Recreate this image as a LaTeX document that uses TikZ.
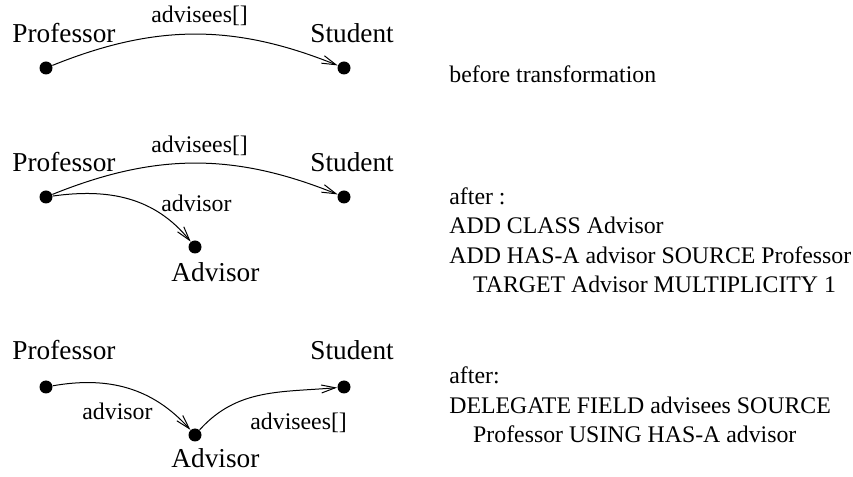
\documentclass[tikz,border=0pt]{standalone}
\usepackage{fontspec}
\setmainfont{Liberation Serif}
\usetikzlibrary{arrows.meta}

\begin{document}
\begin{tikzpicture}[x=0.5pt,y=0.5pt,
  dot/.style={circle,fill=black,inner sep=0pt,minimum size=6.5pt},
  cls/.style={anchor=base west,inner sep=0pt,font=\fontsize{13.65}{16}\selectfont},
  role/.style={anchor=base west,inner sep=0pt,font=\fontsize{11.9}{14.65}\selectfont},
  note/.style={anchor=base west,inner sep=0pt,align=left,font=\fontsize{11.9}{14.8}\selectfont},
  link/.style={-{Straight Barb[length=7pt,width=4pt]},line width=0.5pt}]
  \useasboundingbox (0,0) rectangle (853,477);

  % before transformation
  \node[dot] (prof1) at (46,409) {};
  \node[dot] (stud1) at (344,409) {};
  \node[cls] (lprof1) at (12,434) {Professor};
  \node[cls] (lstud1) at (310,434) {Student};
  \draw[link] (prof1) to[out=22,in=158] (stud1);
  \node[role] (ladv1) at (151,454) {advisees[]};
  \node[role] (note1) at (449,394) {before transformation};

  % after adding the class
  \node[dot] (prof2) at (46,280) {};
  \node[dot] (stud2) at (344,280) {};
  \node[dot] (advr2) at (195,230) {};
  \node[cls] (lprof2) at (12,305) {Professor};
  \node[cls] (lstud2) at (310,305) {Student};
  \node[cls] (ladvr2) at (171,195) {Advisor};
  \draw[link] (prof2) to[out=22,in=158] (stud2);
  \draw[link] (prof2) to[out=8,in=129] (advr2);
  \node[role] (ladv2) at (151,324) {advisees[]};
  \node[role] (lhas2) at (161,265) {advisor};
  % base anchor sits on the last line
  \node[note] (note2) at (449,184) {after :\\
    ADD CLASS Advisor\\
    ADD HAS-A advisor SOURCE Professor\\
    \hspace*{1em}TARGET Advisor MULTIPLICITY 1};

  % after delegating the field
  \node[dot] (prof3) at (46,90) {};
  \node[dot] (stud3) at (344,90) {};
  \node[dot] (advr3) at (195,42) {};
  \node[cls] (lprof3) at (12,117) {Professor};
  \node[cls] (lstud3) at (310,117) {Student};
  \node[cls] (ladvr3) at (171,9) {Advisor};
  \draw[link] (prof3) to[out=10,in=132] (advr3);
  \draw[link] (advr3) to[out=48,in=185] (stud3);
  \node[role] (lhas3) at (82,57) {advisor};
  \node[role] (ladv3) at (250,47) {advisees[]};
  \node[note] (note3) at (449,34) {after:\\
    DELEGATE FIELD advisees SOURCE\\
    \hspace*{1em}Professor USING HAS-A advisor};
\end{tikzpicture}
\end{document}
